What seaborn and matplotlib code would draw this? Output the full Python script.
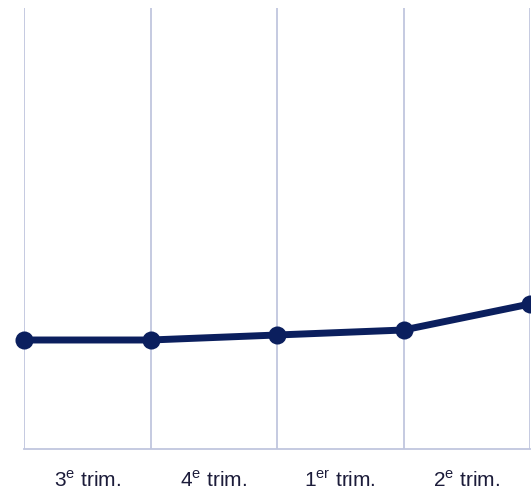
import matplotlib
matplotlib.use("Agg")
import matplotlib.pyplot as plt
import pandas as pd
import seaborn as sns

# Values (arbitrary units, no y axis shown)
positions = [0, 1, 2, 3, 4]
values = [109, 109, 114, 119, 145]
quarter_labels = [r"3$^{\mathrm{e}}$ trim.", r"4$^{\mathrm{e}}$ trim.",
                  r"1$^{\mathrm{er}}$ trim.", r"2$^{\mathrm{e}}$ trim."]
label_positions = [0.5, 1.5, 2.5, 3.5]

sns.set_style("white")
plt.rcParams["font.family"] = ["Liberation Sans", "DejaVu Sans"]
plt.rcParams["mathtext.fontset"] = "custom"
plt.rcParams["mathtext.rm"] = "Liberation Sans"

df = pd.DataFrame({"pos": positions, "val": values})

fig = plt.figure(figsize=(5.31, 4.98), dpi=100)
ax = fig.add_axes([24 / 531, 49 / 498, 506 / 531, 441 / 498])

sns.lineplot(data=df, x="pos", y="val", ax=ax, color="#0b1f5e",
             linewidth=5, marker="o", markersize=13,
             markeredgewidth=0, clip_on=False, zorder=5)

ax.set_xlim(0, 4)
ax.set_ylim(0, 441)

# grid on the quarter boundaries, labels in between
ax.set_xticks(positions)
ax.set_xticklabels([])
ax.set_xticks(label_positions, minor=True)
ax.set_xticklabels(quarter_labels, minor=True, fontsize=15, color="#1c1c3a")
ax.tick_params(axis="x", which="both", length=0)
ax.tick_params(axis="x", which="minor", pad=15)
ax.set_yticks([])
ax.grid(True, axis="x", which="major", color="#c0c6de", linewidth=1.3)
ax.set_xlabel("")
ax.set_ylabel("")

for side in ["top", "right", "left"]:
    ax.spines[side].set_visible(False)
ax.spines["bottom"].set_color("#c0c6de")
ax.spines["bottom"].set_linewidth(1.3)

plt.savefig("out.png", dpi=100)
